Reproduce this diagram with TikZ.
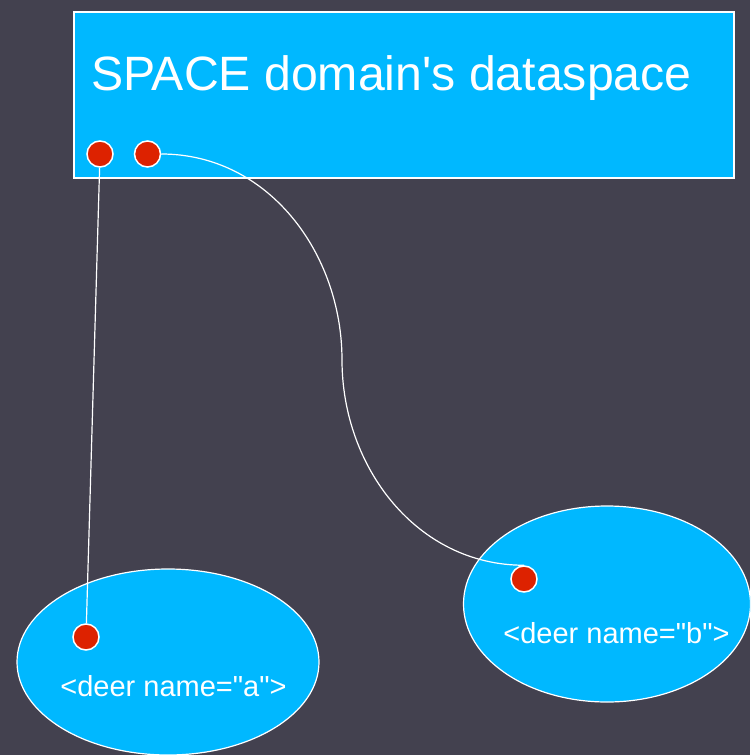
\documentclass[tikz,border=0pt]{standalone}
\usepackage{fontspec}
\setmainfont{Liberation Sans}
\usepackage{tikz}
\usetikzlibrary{shapes.geometric, positioning}
\definecolor{slate}{HTML}{43414F}
\definecolor{sky}{HTML}{00B8FF}
\definecolor{pin}{HTML}{DD2200}
\tikzset{
x=1pt, y=1pt, % one unit is one pixel of the reference
space/.style={draw=white, fill=sky, line width=1.2pt, minimum width=660pt, minimum height=166pt, inner sep=0pt}, % the dataspace box
deer/.style={ellipse, draw=white, fill=sky, line width=1.2pt, inner sep=0pt}, % the deer ellipses
port/.style={circle, draw=white, fill=pin, line width=1.5pt, minimum size=26pt, inner sep=0pt}, % the red pins
deertext/.style={text=white, font=\fontsize{29}{34}\selectfont, inner sep=0pt},
link/.style={draw=white, line width=1.2pt},
}
\begin{document}
\begin{tikzpicture}

            \useasboundingbox (0,0) rectangle (750,-755);
            \fill[slate] (0,0) rectangle (750,-755);

            \node[space] (ds) at (404,-95) {};
            \node[anchor=base west, text=white, inner sep=0pt, font=\fontsize{48.2}{56}\selectfont] (title) at (91,-90) {SPACE domain\textquotesingle s dataspace};
            \node[port] (p1) at (100,-154) {};
            \node[port, right=20pt of p1] (p2) {};

            \begin{scope}
            \clip (0,0) rectangle (750,-755);
            \node[deer, minimum width=302pt, minimum height=186pt] (da) at (168,-662) {};
            \node[deer, minimum width=287pt, minimum height=196pt] (db) at (607,-604) {};
            \end{scope}
            \node[deertext] (la) at (173.5,-686) {<deer name=\textquotedbl a\textquotedbl>};
            \node[deertext] (lb) at (616.5,-633) {<deer name=\textquotedbl b\textquotedbl>};
            \node[port] (pa) at (86,-637) {};
            \node[port] (pb) at (524,-579) {};
            \coordinate (mid) at (342,-360);

            \draw[link] (p1) -- (pa);
            \draw[link] (p2.east) to[out=0, in=90] (mid) to[out=-90, in=180] (pb.north);
        \end{tikzpicture}
\end{document}
